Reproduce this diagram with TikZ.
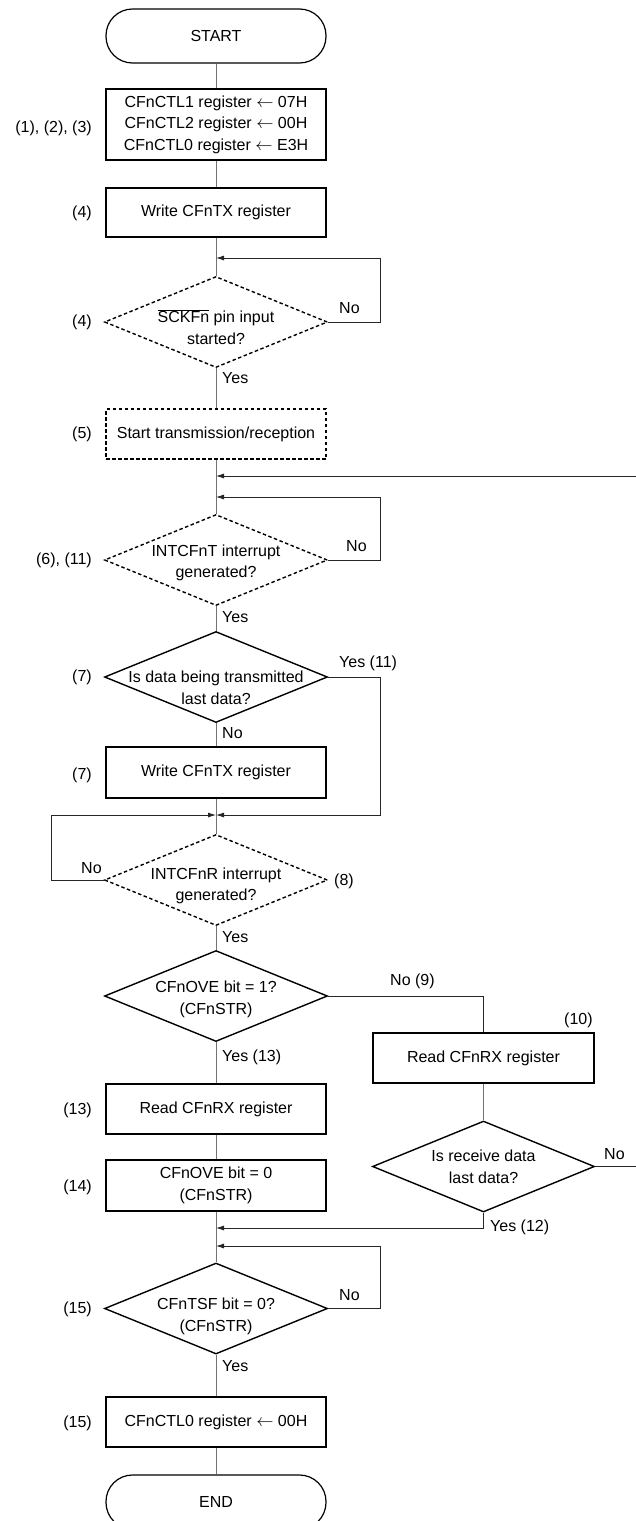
\documentclass[tikz,border=0pt]{standalone}
\usepackage{fontspec}
\setmainfont{Liberation Sans}
\usetikzlibrary{shapes.geometric,arrows.meta}
\begin{document}
\begin{tikzpicture}[x=1pt,y=-1pt,
  every node/.style={font=\fontsize{16}{21.5}\selectfont, inner sep=0pt},
  boxn/.style={draw, line width=1.4pt, minimum width=220pt, align=center},
  dboxn/.style={boxn, dash pattern=on 3.5pt off 2.5pt},
  term/.style={draw, line width=1.2pt, rounded corners=26.5pt, minimum width=220pt, minimum height=54pt},
  dia/.style={draw, diamond, line width=1.4pt, minimum width=223pt, minimum height=91pt},
  ddia/.style={dia, dash pattern=on 3.5pt off 2.5pt},
  txt/.style={align=center},
  flow/.style={draw=black!55, line width=0.9pt},
  loopl/.style={draw=black!85, line width=0.8pt},
  arr/.style={loopl, -{Latex[length=8pt,width=5pt]}},
  lbl/.style={anchor=east},
  side/.style={anchor=west},
]
\useasboundingbox (0,0) rectangle (635,1521);

% main column
\node[term] (start) at (216,36) {START};
\node[boxn, minimum height=71pt] (b1) at (216,124.5) {CFnCTL1 register $\leftarrow$ 07H\\CFnCTL2 register $\leftarrow$ 00H\\CFnCTL0 register $\leftarrow$ E3H};
\node[boxn, minimum height=49pt] (b2) at (216,212.5) {Write CFnTX register};
\coordinate (a1) at (216,258);
\node[ddia] (d1) at (216,322) {};
\node[txt] (d1t) at (216,327) {$\overline{\mbox{SCKFn}}$ pin input\\started?};
\node[dboxn, minimum height=50pt] (b3) at (216,434) {Start transmission/reception};
\coordinate (m0) at (216,476);
\coordinate (m1) at (216,497);
\node[ddia] (d2) at (216,560) {};
\node[txt] (d2t) at (216,563) {INTCFnT interrupt\\generated?};
\node[dia] (d3) at (216,677) {};
\node[txt] (d3t) at (216,688) {Is data being transmitted\\last data?};
\node[boxn, minimum height=51pt] (b4) at (216,772.5) {Write CFnTX register};
\coordinate (m2) at (216,815);
\node[ddia] (d4) at (216,880) {};
\node[txt] (d4t) at (216,886) {INTCFnR interrupt\\generated?};
\node[dia] (d5) at (216,996) {};
\node[txt] (d5t) at (216,999.5) {CFnOVE bit = 1?\\(CFnSTR)};
\node[boxn, minimum height=50pt] (b5) at (216,1109) {Read CFnRX register};
\node[boxn, minimum height=51pt] (b6) at (216,1185.5) {CFnOVE bit = 0\\(CFnSTR)};
\coordinate (m3) at (216,1228);
\coordinate (m4) at (216,1246);
\node[dia] (d7) at (216,1308.5) {};
\node[txt] (d7t) at (216,1316.5) {CFnTSF bit = 0?\\(CFnSTR)};
\node[boxn, minimum height=50pt] (b7) at (216,1422) {CFnCTL0 register $\leftarrow$ 00H};
\node[term] (end) at (216,1502) {END};

% right branch
\node[boxn, minimum width=221pt, minimum height=50pt] (r1) at (483.5,1058) {Read CFnRX register};
\node[dia, minimum width=222pt] (d6) at (483.5,1166.5) {};
\node[txt] (d6t) at (483.5,1167) {Is receive data\\last data?};

% main flow
\draw[flow] (start) -- (b1);
\draw[flow] (b1) -- (b2);
\draw[flow] (b2) -- (d1);
\draw[flow] (d1) -- (b3);
\draw[flow] (b3) -- (d2);
\draw[flow] (d2) -- (d3);
\draw[flow] (d3) -- (b4);
\draw[flow] (b4) -- (d4);
\draw[flow] (d4) -- (d5);
\draw[flow] (d5) -- (b5);
\draw[flow] (b5) -- (b6);
\draw[flow] (b6) -- (d7);
\draw[flow] (d7) -- (b7);
\draw[flow] (b7) -- (end);
\draw[flow] (r1) -- (d6);

% loops and branches
\draw[arr] (d1.east) -- (380,322) -- (380,258) -- (a1);
\draw[arr] (d2.east) -- (380,560) -- (380,497) -- (m1);
\draw[arr] (d3.east) -- (380,677) |- (m2);
\draw[arr] (d4.west) -- (51,880) |- (m2);
\draw[loopl] (d5.east) -| (r1.north);
\draw[arr] (d6.east) -- (640,1166.5) -- (640,476) -- (m0);
\draw[arr] (d6.south) |- (m3);
\draw[arr] (d7.east) -- (380,1308.5) |- (m4);

% step labels
\node[lbl] (s1) at (92,128) {(1), (2), (3)};
\node[lbl] (s2) at (92,213) {(4)};
\node[lbl] (s3) at (92,322) {(4)};
\node[lbl] (s4) at (92,434) {(5)};
\node[lbl] (s5) at (92,560) {(6), (11)};
\node[lbl] (s6) at (92,677) {(7)};
\node[lbl] (s7) at (92,775) {(7)};
\node[lbl] (s8) at (92,1110) {(13)};
\node[lbl] (s9) at (92,1187) {(14)};
\node[lbl] (s10) at (92,1309) {(15)};
\node[lbl] (s11) at (92,1423) {(15)};

% branch labels
\node[side] (t1) at (339,308) {No};
\node[side] (t2) at (222,378) {Yes};
\node[side] (t3) at (346,546) {No};
\node[side] (t4) at (222,617) {Yes};
\node[side] (t5) at (339,663) {Yes (11)};
\node[side] (t6) at (222,733) {No};
\node[side] (t7) at (81,868) {No};
\node[side] (t8) at (334,881) {(8)};
\node[side] (t9) at (222,937) {Yes};
\node[side] (t10) at (390,981) {No (9)};
\node[side] (t11) at (564,1020) {(10)};
\node[side] (t12) at (222,1057) {Yes (13)};
\node[side] (t13) at (604,1154) {No};
\node[side] (t14) at (490,1227) {Yes (12)};
\node[side] (t15) at (339,1295) {No};
\node[side] (t16) at (222,1366) {Yes};
\end{tikzpicture}
\end{document}
